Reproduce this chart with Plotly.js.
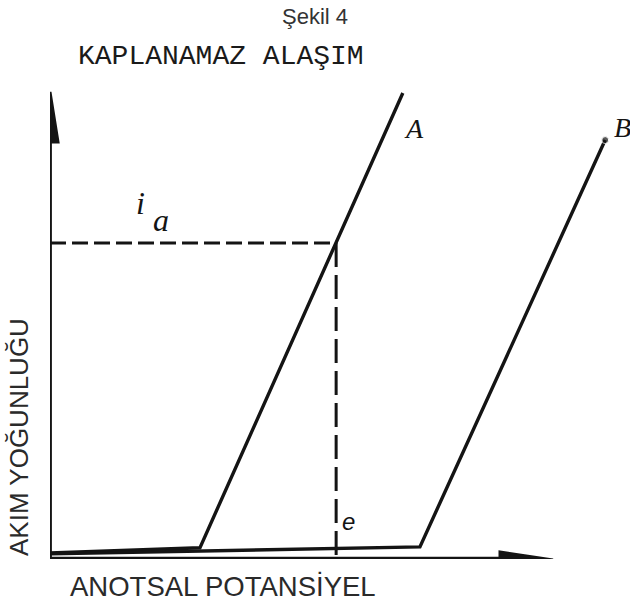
<!DOCTYPE html>
<html>
<head>
<meta charset="utf-8">
<script src="https://cdn.plot.ly/plotly-3.0.1.min.js"></script>
<style>
  html, body { margin: 0; padding: 0; background: #ffffff; }
  #chart { width: 630px; height: 607px; }
</style>
</head>
<body>
<div id="chart"></div>
<script>
// Anodic polarisation curves: current density vs. anodic potential
// Curve A and curve B, each with a passive foot followed by a steep rise.
const curveNames = ['A', 'B'];
const potentialA = [0.00, 2.63, 6.19];
const currentA   = [0.13, 0.24, 10.00];
const potentialB = [0.00, 6.49, 9.74];
const currentB   = [0.11, 0.26, 8.99];

// Reading of curve A at the marked operating point
const markPotentialE = 5.02;   // "e"
const markCurrentIa  = 6.78;   // "i_a"

// Frame of the drawing (page pixels)
const W = 630, H = 607;
const M = { l: 50, r: 2, t: 80, b: 48 };
const plotW = W - M.l - M.r;
const plotH = H - M.t - M.b;
const pxPerX = 57, pxPerY = 46.6;
const xMax = plotW / pxPerX;
const yMax = plotH / pxPerY;

// pixel -> data units (axis lines, arrowheads)
const dx = px => (px - M.l) / pxPerX;
const dy = py => (H - M.b - py) / pxPerY;
// pixel -> paper units (text labels, which may sit outside the plot area)
const gx = px => (px - M.l) / plotW;
const gy = py => (H - M.b - py) / plotH;

const ink = '#141414';

const traces = [
  { x: potentialA, y: currentA, name: curveNames[0], mode: 'lines',
    line: { color: ink, width: 3.4 }, hoverinfo: 'skip', cliponaxis: false },
  { x: potentialB, y: currentB, name: curveNames[1], mode: 'lines+markers',
    line: { color: ink, width: 3.4 },
    marker: { color: ink, size: [0, 0, 7] },
    hoverinfo: 'skip', cliponaxis: false }
];

const shapes = [
  // vertical axis with arrowhead
  { type: 'line', xref: 'x', yref: 'y', x0: dx(50), y0: dy(561), x1: dx(50), y1: dy(130),
    line: { color: ink, width: 3.8 } },
  { type: 'path', xref: 'x', yref: 'y',
    path: `M ${dx(50)},${dy(92)} L ${dx(42)},${dy(142)} L ${dx(58)},${dy(142)} Z`,
    fillcolor: ink, line: { color: ink, width: 3 } },
  // horizontal axis with arrowhead
  { type: 'line', xref: 'x', yref: 'y', x0: dx(48), y0: dy(559), x1: dx(510), y1: dy(559),
    line: { color: ink, width: 4.5 } },
  { type: 'path', xref: 'x', yref: 'y',
    path: `M ${dx(553)},${dy(560)} L ${dx(500)},${dy(552)} L ${dx(500)},${dy(568)} Z`,
    fillcolor: ink, line: { color: ink, width: 3 } },
  // dashed guides to the operating point on curve A
  { type: 'line', xref: 'x', yref: 'y', x0: 0, y0: markCurrentIa, x1: markPotentialE, y1: markCurrentIa,
    line: { color: ink, width: 3, dash: '16px,6px' } },
  { type: 'line', xref: 'x', yref: 'y', x0: markPotentialE, y0: markCurrentIa, x1: markPotentialE, y1: 0,
    line: { color: ink, width: 3, dash: '24px,8px' } }
];

const serifItalic = { family: 'Liberation Serif, DejaVu Serif, serif', color: ink };
const sans = 'Liberation Sans, Arial, sans-serif';

function label(text, px, py, font, extra) {
  return Object.assign({ text: text, xref: 'paper', yref: 'paper', x: gx(px), y: gy(py),
    xanchor: 'center', yanchor: 'middle', showarrow: false, font: font }, extra || {});
}

const annotations = [
  label('KAPLANAMAZ ALAŞIM', 221, 57,
        { family: 'Liberation Mono, Courier New, monospace', size: 28, color: '#1a1a1a' }),
  label('<i>A</i>', 414, 129, Object.assign({ size: 28 }, serifItalic)),
  label('<i>B</i>', 622, 128, Object.assign({ size: 28 }, serifItalic)),
  label('<i>i</i>', 140, 203, Object.assign({ size: 32 }, serifItalic)),
  label('<i>a</i>', 161, 220, Object.assign({ size: 32 }, serifItalic)),
  label('<i>e</i>', 348, 521, { family: sans, size: 24, color: ink }),
  label('ANOTSAL POTANSİYEL', 223, 586, { family: sans, size: 27.5, color: '#2a2a2a' }),
  label('AKIM YOĞUNLUĞU', 19, 437, { family: sans, size: 26, color: '#2a2a2a' }, { textangle: -90 })
];

const hiddenAxis = {
  showgrid: false, zeroline: false, showline: false, showticklabels: false,
  ticks: '', fixedrange: true
};

const layout = {
  width: W, height: H,
  margin: M,
  paper_bgcolor: '#ffffff', plot_bgcolor: '#ffffff',
  showlegend: false,
  title: { text: 'Şekil 4', x: 0.5, xref: 'container', xanchor: 'center',
           y: 1 - 16 / H, yref: 'container', yanchor: 'middle',
           font: { family: sans, size: 22, color: '#333333' } },
  xaxis: Object.assign({ range: [0, xMax] }, hiddenAxis),
  yaxis: Object.assign({ range: [0, yMax] }, hiddenAxis),
  shapes: shapes,
  annotations: annotations
};

Plotly.newPlot('chart', traces, layout, { staticPlot: true, displayModeBar: false });
</script>
</body>
</html>
